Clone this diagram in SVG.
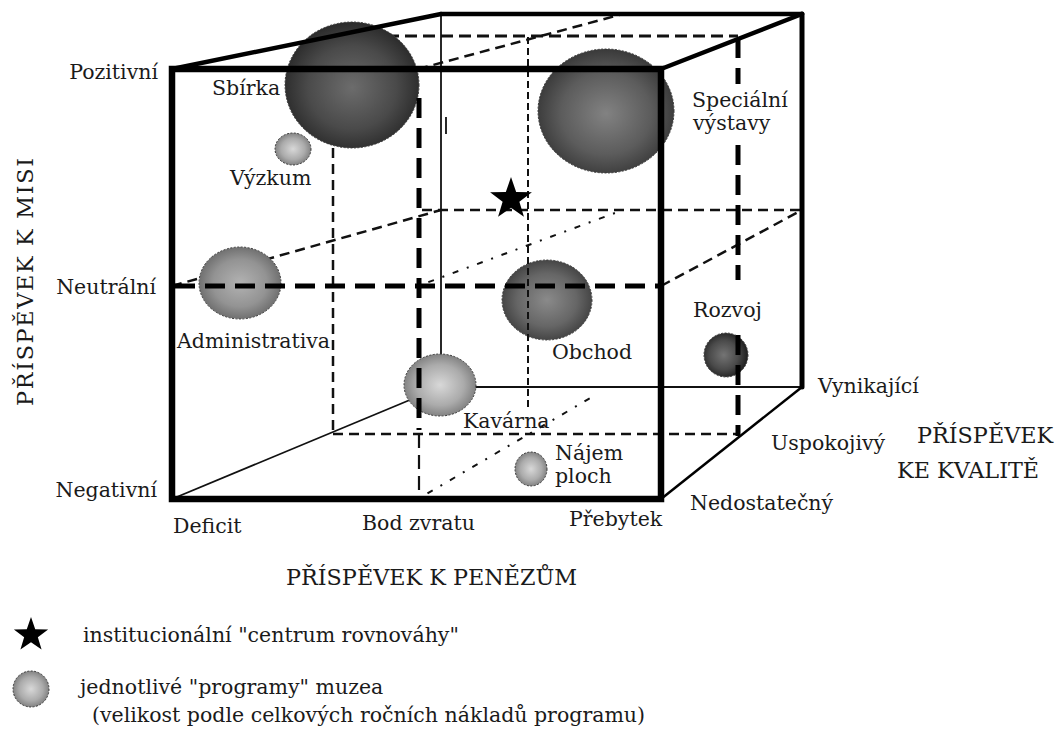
<svg xmlns="http://www.w3.org/2000/svg" width="1055" height="736" viewBox="0 0 1055 736">
<style>
  text { font-family: "DejaVu Serif", "Liberation Serif", serif; fill: #1a1a1a; }
  .lbl { font-size: 20.5px; }
  .axis { font-size: 22.3px; }
  .thin { stroke: #111; stroke-width: 1.8; fill: none; }
  .dash { stroke: #111; stroke-width: 2.5; fill: none; stroke-dasharray: 10 6; }
  .dashTop { stroke: #111; stroke-width: 3.2; fill: none; stroke-dasharray: 12 6; }
  .dashFine { stroke: #111; stroke-width: 2; fill: none; stroke-dasharray: 7 4; }
  .dot { stroke: #111; stroke-width: 2; fill: none; stroke-dasharray: 2 9 6 9; }
  .heavy { stroke: #000; stroke-width: 5; fill: none; stroke-dasharray: 20 10; }
  .frame { stroke: #000; stroke-width: 6.5; fill: none; }
  .edge { stroke: #000; stroke-width: 4.5; fill: none; stroke-linecap: round; }
  .ball { stroke: #3a3a3a; stroke-width: 1; stroke-dasharray: 2 1.5; }
</style>
<defs>
  <radialGradient id="gDark" cx="0.5" cy="0.52" r="0.55">
    <stop offset="0" stop-color="#6c6c6c"/>
    <stop offset="0.6" stop-color="#4a4a4a"/>
    <stop offset="1" stop-color="#262626"/>
  </radialGradient>
  <radialGradient id="gSpec" cx="0.5" cy="0.52" r="0.55">
    <stop offset="0" stop-color="#828282"/>
    <stop offset="0.6" stop-color="#5c5c5c"/>
    <stop offset="1" stop-color="#343434"/>
  </radialGradient>
  <radialGradient id="gShop" cx="0.5" cy="0.5" r="0.55">
    <stop offset="0" stop-color="#8a8a8a"/>
    <stop offset="0.6" stop-color="#666"/>
    <stop offset="1" stop-color="#3c3c3c"/>
  </radialGradient>
  <radialGradient id="gAdm" cx="0.5" cy="0.5" r="0.55">
    <stop offset="0" stop-color="#b2b2b2"/>
    <stop offset="0.6" stop-color="#939393"/>
    <stop offset="1" stop-color="#666"/>
  </radialGradient>
  <radialGradient id="gLight" cx="0.5" cy="0.5" r="0.55">
    <stop offset="0" stop-color="#d8d8d8"/>
    <stop offset="0.6" stop-color="#ababab"/>
    <stop offset="1" stop-color="#777"/>
  </radialGradient>
  <radialGradient id="gDev" cx="0.45" cy="0.5" r="0.55">
    <stop offset="0" stop-color="#747474"/>
    <stop offset="0.6" stop-color="#4a4a4a"/>
    <stop offset="1" stop-color="#1e1e1e"/>
  </radialGradient>
  <path id="star" d="M0 -20 L4.7 -6.47 L19.02 -6.18 L7.61 2.47 L11.76 16.18 L0 8 L-11.76 16.18 L-7.61 2.47 L-19.02 -6.18 L-4.7 -6.47 Z" fill="#000"/>
</defs>

<rect width="1055" height="736" fill="#fff"/>

<!-- hidden / depth lines of the cube, drawn beneath the programme spheres -->
<g id="connectors-back">
  <path class="thin" d="M441 14 V387"/>
  <path class="thin" d="M441 387 H802"/>
  <path class="thin" d="M172 499 L441 387"/>
  <path class="thin" d="M446 117 V134"/>
  <!-- middle quality plane (Uspokojivý) -->
  <path class="dashTop" d="M333 36 H738"/>
  <path class="dash" d="M333 36 V434"/>
  <path class="dash" d="M333 434 H738"/>
  <!-- neutral mission plane -->
  <path class="dash" d="M172 286 L441 210"/>
  <path class="dash" d="M661 286 L802 210"/>
  <path class="dash" d="M422 210 H802"/>
  <!-- break-even depth lines -->
  <path class="dash" d="M418 69 L623 14"/>
  <path class="dot" d="M418 286 L623 210"/>
  <path class="dot" d="M418 499 L592 397"/>
</g>

<!-- programme spheres -->
<g id="node-sbirka">
  <ellipse class="ball" cx="352" cy="85" rx="67" ry="63" fill="url(#gDark)"/>
  <text class="lbl" x="212" y="95">Sbírka</text>
</g>
<g id="node-specialni-vystavy">
  <ellipse class="ball" cx="606" cy="111" rx="68" ry="62" fill="url(#gSpec)"/>
  <text class="lbl" x="692" y="107">Speciální</text>
  <text class="lbl" x="693" y="130">výstavy</text>
</g>
<g id="node-vyzkum">
  <ellipse class="ball" cx="293" cy="149" rx="18" ry="16" fill="url(#gLight)"/>
  <text class="lbl" x="230" y="185">Výzkum</text>
</g>
<g id="node-administrativa">
  <ellipse class="ball" cx="240" cy="283" rx="41" ry="36" fill="url(#gAdm)"/>
  <text class="lbl" x="177" y="348">Administrativa</text>
</g>
<g id="node-obchod">
  <ellipse class="ball" cx="547" cy="300" rx="45" ry="40" fill="url(#gShop)"/>
  <text class="lbl" x="552" y="359">Obchod</text>
</g>
<g id="node-kavarna">
  <ellipse class="ball" cx="440" cy="385" rx="36" ry="31" fill="url(#gLight)"/>
  <text class="lbl" x="463" y="428">Kavárna</text>
</g>
<g id="node-najem-ploch">
  <ellipse class="ball" cx="531" cy="469" rx="16" ry="17" fill="url(#gLight)"/>
  <text class="lbl" x="555" y="460">Nájem</text>
  <text class="lbl" x="555" y="483">ploch</text>
</g>
<g id="node-rozvoj">
  <ellipse class="ball" cx="726" cy="355" rx="22" ry="22" fill="url(#gDev)"/>
  <text class="lbl" x="693" y="317">Rozvoj</text>
</g>

<!-- visible frame and reference planes, drawn over the spheres -->
<g id="connectors-front">
  <path class="dashFine" d="M528 37 V408"/>
  <path class="heavy" d="M419 98 V430"/>
  <path class="dash" d="M419 434 V496" style="stroke-dasharray:14 7;stroke-width:2.2"/>
  <path class="heavy" d="M175 286 H658"/>
  <path class="heavy" d="M738 38 V84"/>
  <path class="heavy" d="M738 145 V280"/>
  <path class="heavy" d="M738 335 V436"/>
  <rect class="frame" x="172" y="69" width="489" height="430"/>
  <path class="edge" d="M172 69 L441 14"/>
  <path class="edge" d="M441 14 H802"/>
  <path class="edge" d="M661 69 L802 14"/>
  <path class="edge" d="M802 14 V387" style="stroke-width:5"/>
  <path d="M661 499 L802 387" stroke="#000" stroke-width="2.5" fill="none"/>
</g>

<g id="node-balance-centre">
  <use href="#star" transform="translate(511 199) scale(1.1)"/>
</g>

<!-- axis scales -->
<g id="axis-mission">
  <text class="lbl" x="158" y="79" text-anchor="end">Pozitivní</text>
  <text class="lbl" x="156" y="294" text-anchor="end">Neutrální</text>
  <text class="lbl" x="157" y="497" text-anchor="end">Negativní</text>
  <text class="axis" transform="translate(33 282) rotate(-90)" text-anchor="middle" textLength="248">PŘÍSPĚVEK K MISI</text>
</g>
<g id="axis-money">
  <text class="lbl" x="173" y="533">Deficit</text>
  <text class="lbl" x="362" y="530">Bod zvratu</text>
  <text class="lbl" x="569" y="526">Přebytek</text>
  <text class="axis" x="286" y="585">PŘÍSPĚVEK K PENĚZŮM</text>
</g>
<g id="axis-quality">
  <text class="lbl" x="818" y="393">Vynikající</text>
  <text class="lbl" x="771" y="450">Uspokojivý</text>
  <text class="lbl" x="690" y="510">Nedostatečný</text>
  <text class="axis" x="917" y="443">PŘÍSPĚVEK</text>
  <text class="axis" x="897" y="478">KE KVALITĚ</text>
</g>

<!-- legend -->
<g id="legend">
  <use href="#star" transform="translate(31 635) scale(0.9)"/>
  <text class="lbl" x="83" y="642">institucionální "centrum rovnováhy"</text>
  <ellipse class="ball" cx="31" cy="689" rx="18" ry="18" fill="url(#gLight)"/>
  <text class="lbl" x="80" y="694">jednotlivé "programy" muzea</text>
  <text class="lbl" x="92" y="722">(velikost podle celkových ročních nákladů programu)</text>
</g>
</svg>
